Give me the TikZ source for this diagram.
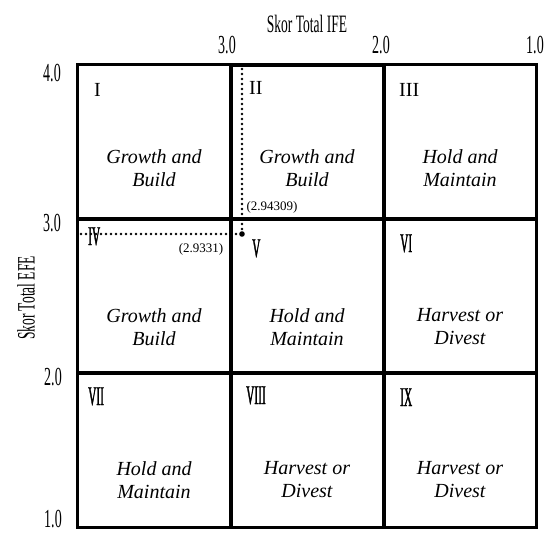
\documentclass[tikz,border=0pt]{standalone}
\usepackage{fontspec}
\setmainfont{Liberation Serif}
\newfontfamily\condA[FakeStretch=0.54]{Liberation Serif}
\newfontfamily\condB[FakeStretch=0.42,FakeBold=1.2]{Liberation Serif}
\tikzset{
  cell/.style={font=\fontsize{20}{23}\selectfont\itshape, align=center, inner sep=0pt},
  rn/.style={font=\fontsize{20}{20}\selectfont, anchor=base west, inner sep=0pt},
  rnc/.style={font=\condB\fontsize{27}{27}\selectfont, anchor=base west, inner sep=0pt},
  axt/.style={font=\condA\fontsize{25}{25}\selectfont, inner sep=0pt},
  axn/.style={font=\condA\fontsize{26}{26}\selectfont, inner sep=0pt},
  vallabel/.style={font=\fontsize{13}{13}\selectfont, inner sep=0pt},
  dotline/.style={line width=2.7pt, dash pattern=on 0pt off 5pt, line cap=round},
  outer/.style={line width=3pt},
  inner/.style={line width=4pt}
}
\begin{document}
\begin{tikzpicture}[x=1pt,y=-1pt]
\fill[white] (0,0) rectangle (544,535);
\useasboundingbox (0,0) rectangle (544,535);
% grid
\draw[outer] (77,65) rectangle (536,527);
\draw[inner] (231,65) -- (231,527);
\draw[inner] (384,65) -- (384,527);
\draw[inner] (77,219) -- (536,219);
\draw[inner] (77,373) -- (536,373);
\draw[inner] (231,65) -- (384,65);
% roman numerals
\node[rn] (n1) at (94,96) {I};
\node[rn] (n2) at (249,95) {II};
\node[rn] (n3) at (399,96) {III};
\node[rnc] (n4) at (88,245) {IV};
\node[rnc] (n5) at (252,257) {V};
\node[rnc] (n6) at (400,252) {VI};
\node[rnc] (n7) at (88,405) {VII};
\node[rnc] (n8) at (246,404) {VIII};
\node[rnc] (n9) at (400,406) {IX};
% cell texts
\node[cell] (t1) at (154,168) {Growth and\\Build};
\node[cell] (t2) at (307,168) {Growth and\\Build};
\node[cell] (t3) at (460,168) {Hold and\\Maintain};
\node[cell] (t4) at (154,327) {Growth and\\Build};
\node[cell] (t5) at (307,327) {Hold and\\Maintain};
\node[cell] (t6) at (460,327) {Harvest or\\Divest};
\node[cell] (t7) at (154,480) {Hold and\\Maintain};
\node[cell] (t8) at (307,480) {Harvest or\\Divest};
\node[cell] (t9) at (460,480) {Harvest or\\Divest};
% axes
\node[axt] (ife) at (307,24) {Skor Total IFE};
\node[axt, rotate=90] (efe) at (26,298) {Skor Total EFE};
\node[axn] (x3) at (227,45) {3.0};
\node[axn] (x2) at (381,45) {2.0};
\node[axn] (x1) at (535,45) {1.0};
\node[axn] (y4) at (52,73) {4.0};
\node[axn] (y3) at (52,223) {3.0};
\node[axn] (y2) at (53,377) {2.0};
\node[axn] (y1) at (53,519) {1.0};
% point
\coordinate (pt) at (242,234);
\coordinate (vtop) at (242,69);
\coordinate (hleft) at (81,234);
\draw[dotline] (vtop) -- (pt);
\draw[dotline] (hleft) -- (pt);
\fill (pt) circle (2.8);
\node[vallabel] (lv) at (272,207) {(2.94309)};
\node[vallabel] (lh) at (201,249) {(2.9331)};
\end{tikzpicture}
\end{document}
